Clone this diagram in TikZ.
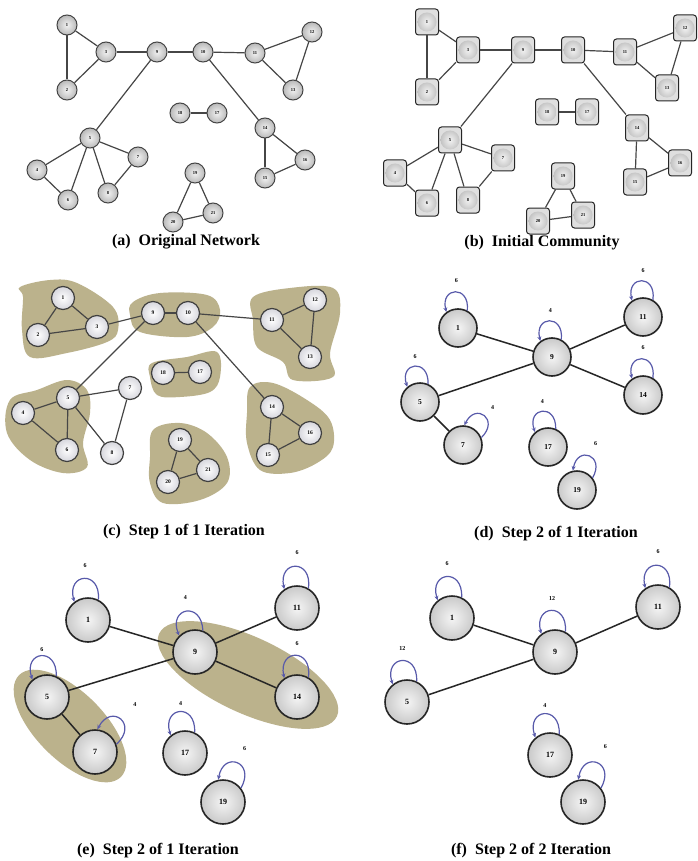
\documentclass[tikz,border=0pt]{standalone}
\usepackage{fontspec}
\setmainfont{Liberation Serif}
\usetikzlibrary{arrows.meta}

\definecolor{khaki}{RGB}{187,178,140}
\definecolor{loopblue}{RGB}{88,90,170}
\definecolor{edgegray}{RGB}{70,70,70}
\definecolor{lavwhite}{RGB}{236,236,244}

\tikzset{
  an/.style={circle, minimum size=20pt, inner sep=0pt, draw=gray!55!black, line width=1pt,
    inner color=gray!10, outer color=gray!55, font=\fontsize{4.5}{5}\selectfont\bfseries},
  bn/.style={rectangle, rounded corners=3pt, minimum width=23pt, minimum height=26pt, inner sep=0pt,
    draw=gray!30!black, line width=1pt, fill=gray!25,
    path picture={\shade[inner color=gray!10, outer color=gray!55]
      (path picture bounding box.center) circle (9.5pt);},
    font=\fontsize{4.5}{5}\selectfont\bfseries},
  cn/.style={circle, minimum size=23pt, inner sep=0pt, draw=black!75, line width=1.2pt,
    inner color=white, outer color=lavwhite!80!gray, font=\fontsize{5.5}{6}\selectfont\bfseries},
  dn/.style={circle, minimum size=38pt, inner sep=0pt, draw=black!85, line width=1.6pt,
    inner color=gray!8, outer color=gray!42, font=\fontsize{7.5}{8}\selectfont\bfseries},
  en/.style={dn, minimum size=44pt, font=\fontsize{8}{9}\selectfont\bfseries},
  aedge/.style={draw=edgegray, line width=1.2pt},
  dedge/.style={draw=black!85, line width=1.5pt},
  loopline/.style={draw=loopblue, line width=1.2pt, -{Stealth[length=4.5pt,width=4pt]}},
  looplab/.style={font=\fontsize{6}{6}\selectfont\bfseries, inner sep=0pt},
  caption/.style={font=\fontsize{16}{18}\selectfont\bfseries, inner sep=0pt},
  blob/.style={fill=khaki, draw=none}
}

% self loop above a node: #1 node, #2 direction, #3 label, #4 control length, #5 label distance
\newcommand\sloop[5]{%
  \draw[loopline] (#1.{#2-30}) .. controls +({#2-8}:#4pt) and +({#2+12}:#4pt) .. (#1.{#2+34});
  \path (#1.center) ++(#2:#5pt) node[looplab] (#1lab) {#3};
}

\begin{document}
\begin{tikzpicture}[x=1pt,y=-1pt]
\useasboundingbox (0,0) rectangle (697,861);
\fill[white] (0,0) rectangle (697,861);

% ---------- (a) original network ----------
\foreach \n/\x/\y in {1/67/25, 3/106/52, 2/67/90, 9/157/52, 10/203/52, 11/255/53, 12/312/32,
  13/293/90, 18/180/113, 17/217/113, 14/265/128, 16/305/160, 15/265/178, 5/90/138,
  4/37/170, 6/68/200, 8/108/193, 7/138/157, 19/195/173, 20/173/222, 21/213/213}
  \node[an] (a\n) at (\x,\y) {\n};
\foreach \u/\v in {1/2,1/3,2/3,3/9,9/10,10/11,11/12,11/13,12/13,9/5,5/4,5/6,4/6,5/7,5/8,7/8,
  10/14,14/16,14/15,15/16,18/17,19/20,19/21,20/21}
  \draw[aedge] (a\u) -- (a\v);
\node[caption] (capa) at (186,242) {(a)~~Original Network};

% ---------- (b) initial community ----------
\foreach \n/\x/\y in {1/427/22, 3/468/50, 2/427/92, 9/523/50, 10/573/50, 11/625/52, 12/685/28,
  13/667/88, 18/547/112, 17/587/112, 14/637/128, 16/680/163, 15/635/182, 5/450/140,
  4/395/173, 6/427/203, 8/468/200, 7/503/158, 19/563/176, 20/538/221, 21/583/215}
  \node[bn] (b\n) at (\x,\y) {\n};
\foreach \u/\v in {1/2,1/3,2/3,3/9,9/10,10/11,11/12,11/13,12/13,9/5,5/4,5/6,4/6,5/7,5/8,7/8,
  10/14,14/16,14/15,15/16,18/17,19/20,19/21,20/21}
  \draw[aedge] (b\u) -- (b\v);
\node[caption] (capb) at (542,243) {(b)~~Initial Community};

% ---------- (c) step 1 of 1 iteration ----------
\path[blob] plot[smooth cycle, tension=0.6] coordinates {(20,287) (50,280) (77,283) (113,307)
  (118,330) (107,342) (67,353) (30,357) (22,330) (23,297)};
\path[blob] plot[smooth cycle, tension=0.6] coordinates {(133,302) (160,293) (207,295) (220,310)
  (213,327) (187,337) (140,332) (130,315)};
\path[blob] plot[smooth cycle, tension=0.6] coordinates {(253,297) (290,288) (333,288) (340,313)
  (330,353) (333,377) (293,380) (283,362) (257,347) (253,320)};
\path[blob] plot[smooth cycle, tension=0.6] coordinates {(10,400) (37,390) (67,380) (87,390)
  (90,413) (83,443) (87,467) (63,473) (30,460) (7,433)};
\path[blob] plot[smooth cycle, tension=0.6] coordinates {(152,363) (187,357) (217,352) (220,377)
  (210,392) (180,397) (157,395) (150,377)};
\path[blob] plot[smooth cycle, tension=0.6] coordinates {(250,387) (273,383) (307,400) (330,420)
  (333,447) (317,463) (290,473) (260,470) (247,443) (247,413)};
\path[blob] plot[smooth cycle, tension=0.6] coordinates {(153,430) (180,423) (207,433) (227,457)
  (227,483) (200,500) (163,503) (150,483) (150,457)};
\foreach \n/\x/\y in {1/63/298, 2/38/335, 3/97/327, 9/153/313, 10/188/313, 11/272/320,
  12/315/300, 13/310/357, 18/163/373, 17/200/372, 5/68/398, 4/23/413, 6/67/450,
  7/130/388, 8/112/453, 14/272/407, 16/310/433, 15/268/455, 19/180/440, 20/168/482, 21/208/470}
  \node[cn] (c\n) at (\x,\y) {\n};
\foreach \u/\v in {1/2,1/3,2/3,3/9,9/10,10/11,11/12,11/13,12/13,9/5,5/4,5/6,4/6,5/7,5/8,7/8,
  10/14,14/16,14/15,15/16,18/17,19/20,19/21,20/21}
  \draw[aedge] (c\u) -- (c\v);
\node[caption] (capc) at (184,532) {(c)~~Step 1 of 1 Iteration};

% ---------- (d) step 2 of 1 iteration ----------
\foreach \n/\x/\y in {1/458/328, 9/552/357, 11/643/317, 14/643/395, 5/420/402, 7/463/445,
  17/548/447, 19/577/490}
  \node[dn] (d\n) at (\x,\y) {\n};
\foreach \u/\v in {1/9,9/11,9/14,9/5,5/7}
  \draw[dedge] (d\u) -- (d\v);
\sloop{d1}{92}{6}{26}{47}
\sloop{d9}{92}{4}{26}{47}
\sloop{d11}{90}{6}{26}{46}
\sloop{d14}{90}{6}{26}{47}
\sloop{d5}{96}{6}{26}{46}
\sloop{d7}{52}{4}{26}{48}
\sloop{d17}{97}{4}{26}{46}
\sloop{d19}{68}{6}{26}{50}
\node[caption] (capd) at (556,534) {(d)~~Step 2 of 1 Iteration};

% ---------- (e) step 2 of 1 iteration ----------
\fill[khaki, rotate around={-45:(70,726)}] (70,726) ellipse [x radius=72pt, y radius=34pt];
\fill[khaki, rotate around={-25:(248,675)}] (248,675) ellipse [x radius=98pt, y radius=38pt];
\foreach \n/\x/\y in {1/88/620, 9/195/652, 11/297/608, 14/297/697, 5/47/697, 7/95/752,
  17/185/753, 19/223/802}
  \node[en] (e\n) at (\x,\y) {\n};
\foreach \u/\v in {1/9,9/11,9/14,9/5,5/7}
  \draw[dedge] (e\u) -- (e\v);
\sloop{e1}{93}{6}{30}{55}
\sloop{e9}{100}{4}{30}{55}
\sloop{e11}{90}{6}{30}{55}
\sloop{e14}{90}{6}{30}{53}
\sloop{e5}{96}{6}{30}{48}
\sloop{e7}{50}{4}{30}{62}
\sloop{e17}{95}{4}{30}{50}
\sloop{e19}{68}{6}{30}{58}
\node[caption] (cape) at (158,851) {(e)~~Step 2 of 1 Iteration};

% ---------- (f) step 2 of 2 iteration ----------
\foreach \n/\x/\y in {1/452/618, 9/555/652, 11/658/607, 5/407/702, 17/550/755, 19/583/802}
  \node[en] (f\n) at (\x,\y) {\n};
\foreach \u/\v in {1/9,9/11,9/5}
  \draw[dedge] (f\u) -- (f\v);
\sloop{f1}{95}{6}{30}{55}
\sloop{f9}{93}{12}{30}{54}
\sloop{f11}{90}{6}{30}{55}
\sloop{f5}{95}{12}{30}{54}
\sloop{f17}{96}{4}{30}{50}
\sloop{f19}{68}{6}{30}{60}
\node[caption] (capf) at (531,851) {(f)~~Step 2 of 2 Iteration};
\end{tikzpicture}
\end{document}
